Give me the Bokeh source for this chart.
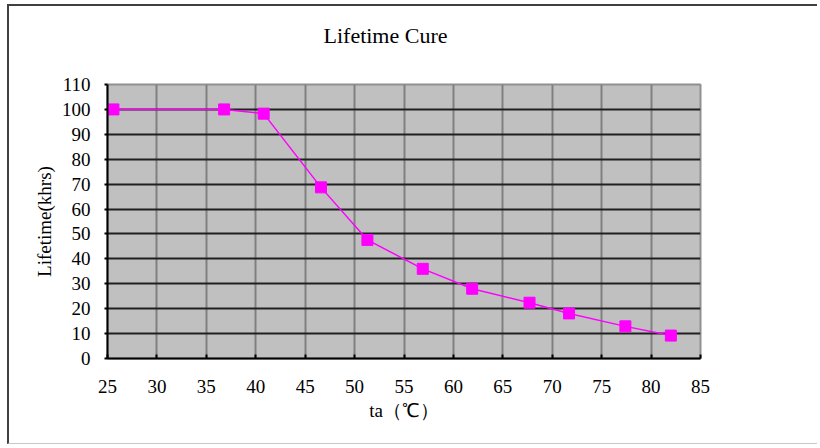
from bokeh.plotting import figure
from bokeh.models import Range1d, FixedTicker
from bokeh.embed import file_html
from bokeh.resources import INLINE

# Data
temps = [25.6, 36.8, 40.8, 46.6, 51.3, 56.9, 61.9, 67.7, 71.7, 77.4, 82.0]
lifetime = [100, 100, 98.3, 68.7, 47.6, 36.0, 28.0, 22.4, 18.1, 12.9, 9.2]
x_ticks = [25, 30, 35, 40, 45, 50, 55, 60, 65, 70, 75, 80, 85]
y_ticks = [0, 10, 20, 30, 40, 50, 60, 70, 80, 90, 100, 110]
title_text = "Lifetime Cure"

SERIF = "Liberation Serif"

p = figure(width=810, height=440, output_backend="svg", toolbar_location=None,
           x_range=Range1d(25, 85), y_range=Range1d(0, 110),
           min_border_left=98, min_border_right=119, min_border_top=78, min_border_bottom=88)

# a blank second line keeps the title higher above the plotting area
p.title.text = title_text + "\n\u00a0"
p.title.text_font = SERIF
p.title.text_font_size = "22px"
p.title.text_font_style = "normal"
p.title.text_color = "black"
p.title.align = "left"
p.title.offset = 216
p.title.standoff = 24

p.background_fill_color = "#c0c0c0"
p.border_fill_color = "white"
p.outline_line_color = "#909090"
p.outline_line_width = 2

p.xgrid.grid_line_color = "#808080"
p.xgrid.grid_line_width = 2
p.ygrid.grid_line_color = "#202020"
p.ygrid.grid_line_width = 2

p.xaxis.ticker = FixedTicker(ticks=x_ticks)
p.yaxis.ticker = FixedTicker(ticks=y_ticks)

for ax in (p.xaxis[0], p.yaxis[0]):
    ax.axis_line_color = "black"
    ax.axis_line_width = 2
    ax.major_tick_line_color = "black"
    ax.major_tick_line_width = 2
    ax.minor_tick_line_color = None
    ax.major_label_text_font = SERIF
    ax.major_label_text_font_size = "19px"
    ax.major_label_text_color = "black"
    ax.axis_label_text_font = SERIF
    ax.axis_label_text_font_size = "19px"
    ax.axis_label_text_font_style = "normal"
    ax.axis_label_text_color = "black"

p.xaxis.major_tick_in = 4
p.xaxis.major_tick_out = 0
p.xaxis.major_label_standoff = 21
p.xaxis.axis_label = "ta（℃）"
p.xaxis.axis_label_standoff = 4

p.yaxis.major_tick_in = 0
p.yaxis.major_tick_out = 3
p.yaxis.major_label_standoff = 14
p.yaxis.axis_label = "Lifetime(khrs)"
p.yaxis.axis_label_standoff = 4

p.line(temps, lifetime, line_color="#ff00ff", line_width=1.5)
p.scatter(temps, lifetime, marker="square", size=11, fill_color="#ff00ff", line_color="#ff00ff")

p.styles = {"margin-left": "7px", "margin-top": "4px",
            "border-top": "2px solid #404040", "border-left": "2px solid #404040",
            "border-bottom": "1px solid #c8c8c8"}

open("out.html", "w").write(file_html(p, INLINE))
